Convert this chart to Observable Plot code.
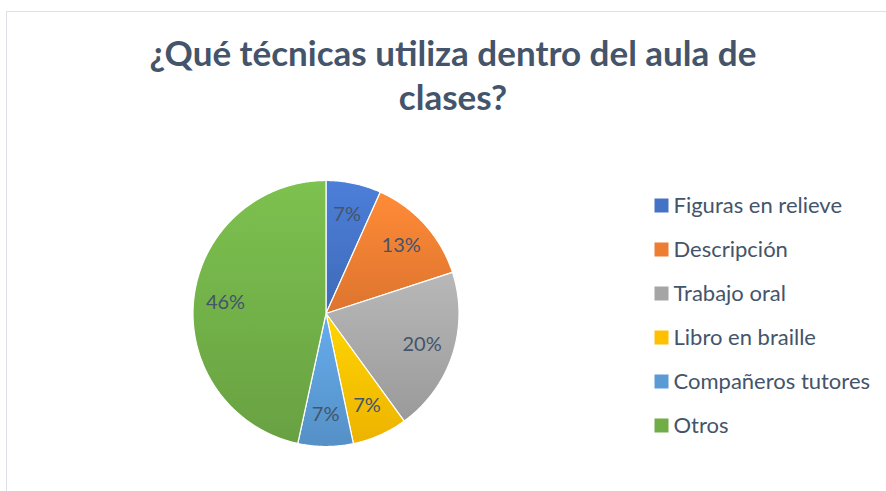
<!DOCTYPE html>
<html><head><meta charset="utf-8">
<script src="https://cdn.jsdelivr.net/npm/d3@7"></script>
<script src="https://cdn.jsdelivr.net/npm/@observablehq/plot@0.6"></script>
<style>
body{margin:0;background:#fff;}
#wrap{position:relative;width:886px;height:491px;overflow:hidden;font-family:Lato,"Open Sans",sans-serif;background:#fff;}
#frame{position:absolute;left:6px;top:11px;width:920px;height:520px;border:1.5px solid #dde1e7;box-sizing:border-box;}
#title{position:absolute;left:0;top:30px;width:906px;text-align:center;font-size:35px;line-height:44px;font-weight:700;color:#44546a;}
#pie,#legend{position:absolute;}
#pie{left:0;top:0;}
#legend{left:640px;top:180px;}
</style></head>
<body>
<div id="wrap">
  <div id="frame"></div>
  <div id="title">¿Qué técnicas utiliza dentro del aula de<br>clases?</div>
  <div id="pie"></div>
  <div id="legend"></div>
</div>
<script>
const categories = ["Figuras en relieve","Descripción","Trabajo oral","Libro en braille","Compañeros tutores","Otros"];
const values = [6.7, 13.3, 20, 6.7, 6.7, 46.6];
const labels = ["7%","13%","20%","7%","7%","46%"];
const colors = ["#4472C4","#ED7D31","#A5A5A5","#FFC000","#5B9BD5","#70AD47"];

const textColor = "#44546a";
const cx = 325.5, cy = 313, R = 133;

const arcs = d3.pie().sort(null).value(d => d)(values);
const slices = arcs.map((a, i) => {
  const pts = [{x: 0, y: 0}];
  const n = Math.max(4, Math.ceil((a.endAngle - a.startAngle) / 0.01));
  for (let k = 0; k <= n; k++) {
    const t = a.startAngle + (a.endAngle - a.startAngle) * k / n;
    pts.push({x: Math.sin(t), y: Math.cos(t)});
  }
  return pts;
});
const labelData = arcs.map((a, i) => {
  const m = (a.startAngle + a.endAngle) / 2;
  return {x: 0.76 * Math.sin(m), y: 0.76 * Math.cos(m), label: labels[i]};
});

const pie = Plot.plot({
  width: 886, height: 491,
  x: {domain: [-1, 1], range: [cx - R, cx + R], axis: null},
  y: {domain: [-1, 1], range: [cy + R, cy - R], axis: null},
  style: {fontFamily: "Lato, 'Open Sans', sans-serif", background: "transparent"},
  marks: [
    ...slices.map((pts, i) => Plot.line(pts, {x: "x", y: "y", curve: "linear-closed", fill: `url(#g${i})`, stroke: "white", strokeWidth: 1.2})),
    Plot.text(labelData, {x: "x", y: "y", text: "label", fontSize: 20, fill: textColor})
  ]
});
const defs = document.createElementNS("http://www.w3.org/2000/svg", "defs");
colors.forEach((c, i) => {
  const lg = document.createElementNS("http://www.w3.org/2000/svg", "linearGradient");
  lg.setAttribute("id", `g${i}`);
  lg.setAttribute("x1", "0"); lg.setAttribute("y1", "0");
  lg.setAttribute("x2", "0"); lg.setAttribute("y2", "1");
  const s1 = document.createElementNS("http://www.w3.org/2000/svg", "stop");
  s1.setAttribute("offset", "0"); s1.setAttribute("stop-color", d3.color(c).brighter(0.3).formatHex());
  const s2 = document.createElementNS("http://www.w3.org/2000/svg", "stop");
  s2.setAttribute("offset", "1"); s2.setAttribute("stop-color", d3.color(c).darker(0.2).formatHex());
  lg.appendChild(s1); lg.appendChild(s2);
  defs.appendChild(lg);
});
pie.insertBefore(defs, pie.firstChild);
document.getElementById("pie").appendChild(pie);

const legend = Plot.plot({
  width: 246, height: 270,
  margin: 0,
  y: {type: "point", domain: categories, range: [23, 246], padding: 0, axis: null},
  style: {fontFamily: "Lato, 'Open Sans', sans-serif", background: "transparent"},
  marks: [
    Plot.dot(categories, {y: d => d, frameAnchor: "left", dx: 21, symbol: "square", r: 7.9, fill: (d, i) => colors[i], stroke: null}),
    Plot.text(categories, {y: d => d, frameAnchor: "left", dx: 33, text: d => d, textAnchor: "start", fontSize: 22, fill: textColor})
  ]
});
document.getElementById("legend").appendChild(legend);
</script>
</body></html>
